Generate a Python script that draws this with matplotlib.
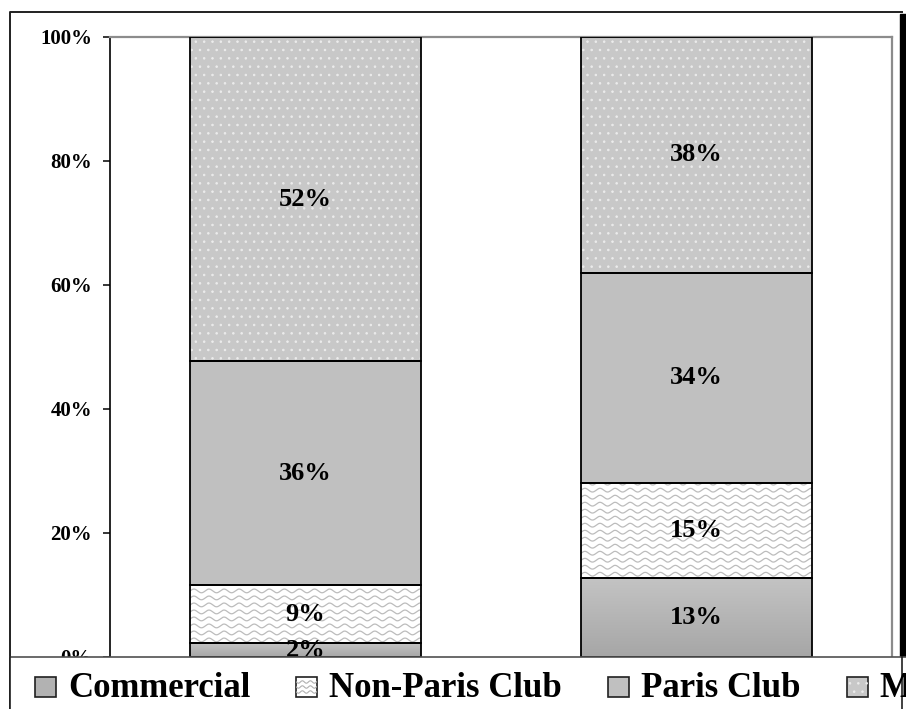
import numpy as np
import matplotlib.pyplot as plt
from matplotlib.patches import Rectangle
from matplotlib.lines import Line2D
from matplotlib.colors import LinearSegmentedColormap

# data (percent of total, bottom to top)
categories = ['Period 1', 'Period 2']
series = ['Commercial', 'Non-Paris Club', 'Paris Club', 'Multilateral']
commercial = [2.2, 12.8]
non_paris = [9.4, 15.3]
paris = [36.1, 33.9]
multilateral = [52.3, 38.0]
yticks = [0, 20, 40, 60, 80, 100]

W, H = 906, 709
SERIF = 'Liberation Serif'
plt.rcParams['hatch.linewidth'] = 0.6

def fx(x):
  return x / W

def fy(y):
  return 1 - y / H

fig = plt.figure(figsize=(W / 100, H / 100), dpi=100)
ax = fig.add_axes([fx(110), fy(657), (892 - 110) / W, (657 - 37) / H])

x = np.arange(len(categories))
width = 0.59
stack = [commercial, non_paris, paris, multilateral]
faces = ['#b4b4b4', 'white', '#c0c0c0', '#c8c8c8']

# stacked bars
bottoms = np.zeros(len(categories))
containers = []
for vals, face in zip(stack, faces):
  bars = ax.bar(x, vals, width, bottom=bottoms, color=face, edgecolor='none', zorder=2)
  containers.append((bars, bottoms.copy(), np.array(vals)))
  bottoms = bottoms + np.array(vals)

# commercial: vertical gradient, lighter at the top of each bar
grad_cmap = LinearSegmentedColormap.from_list('g', ['#a6a6a6', '#c4c4c4'])
grad = np.linspace(0, 1, 256).reshape(-1, 1)
for patch in containers[0][0]:
  x0, y0 = patch.get_x(), patch.get_y()
  im = ax.imshow(grad, extent=[x0, x0 + patch.get_width(), y0, y0 + patch.get_height()],
                 origin='lower', aspect='auto', cmap=grad_cmap, zorder=2.5)
  im.set_clip_path(patch)

# non-paris club: wavy texture
lam = 15 / 389.0
amp = 0.3
for patch in containers[1][0]:
  x0, y0 = patch.get_x(), patch.get_y()
  xx = np.linspace(x0, x0 + patch.get_width(), 600)
  for yy in np.arange(y0 + 0.55, y0 + patch.get_height(), 1.13):
    ln, = ax.plot(xx, yy + amp * np.sin(2 * np.pi * (xx - x0) / lam), color='#bcbcbc',
                  lw=0.9, zorder=2.5)
    ln.set_clip_path(patch)

# multilateral: faint white dots
ax.bar(x, multilateral, width, bottom=containers[3][1], fill=False, edgecolor='#ececec',
       lw=0, hatch='..', zorder=2.6)

# outlines and value labels
for bars, bot, vals in containers:
  ax.bar(x, vals, width, bottom=bot, fill=False, edgecolor='black', lw=1.3, zorder=4)
  for xi, b, v in zip(x, bot, vals):
    ax.text(xi, b + v / 2, '%.0f%%' % v, ha='center', va='center', fontsize=19,
            fontweight='bold', family=SERIF, zorder=6)

ax.set_xlim(-0.5, len(categories) - 0.5)
ax.set_ylim(0, 100)
ax.set_yticks(yticks)
ax.set_yticklabels(['%d%%' % t for t in yticks], fontsize=15, fontweight='bold', family=SERIF)
ax.set_xticks([])
ax.tick_params(axis='y', length=5, width=1.1, pad=8)
ax.spines['left'].set_linewidth(1.2)
ax.spines['bottom'].set_visible(False)
for side in ['top', 'right']:
  ax.spines[side].set_color('#8c8c8c')
  ax.spines[side].set_linewidth(1.6)

# chart frame and shadow
fig.lines.append(Line2D([fx(10), fx(10), fx(902)], [fy(H), fy(12), fy(12)], color='#202020',
                        lw=1.4, transform=fig.transFigure, zorder=3))
fig.patches.append(Rectangle((fx(900), fy(657)), fx(6), (657 - 14) / H, color='black',
                             transform=fig.transFigure, zorder=3))

# legend box along the bottom (cut off at the right, as in the source)
fig.patches.append(Rectangle((fx(10), 0), 1, fy(657), facecolor='white', edgecolor='none',
                             transform=fig.transFigure, zorder=10))
fig.lines.append(Line2D([fx(10), 1], [fy(657), fy(657)], color='#505050', lw=1.2,
                        transform=fig.transFigure, zorder=11))
for px_ in [10, 902]:
  fig.lines.append(Line2D([fx(px_), fx(px_)], [fy(657), 0], color='#202020', lw=1.2,
                          transform=fig.transFigure, zorder=11))

renderer = fig.canvas.get_renderer()
bx = 35
for i, name in enumerate(series):
  box = Rectangle((fx(bx), fy(697)), 21 / W, 20 / H, facecolor=faces[i], edgecolor='#202020',
                  lw=1.2, transform=fig.transFigure, zorder=12)
  fig.patches.append(box)
  if i == 0:
    box.set_facecolor('#b2b2b2')
  if i == 1:
    xs = np.linspace(bx, bx + 21, 60)
    for yy in [682, 687, 692]:
      ln = Line2D(fx(xs), fy(yy + 1.2 * np.sin(2 * np.pi * (xs - bx) / 8)), color='#b0b0b0',
                  lw=0.8, transform=fig.transFigure, zorder=12.5)
      ln.set_clip_path(box)
      fig.lines.append(ln)
  if i == 3:
    fig.patches.append(Rectangle((fx(bx), fy(697)), 21 / W, 20 / H, fill=False,
                                 edgecolor='#ececec', lw=0, hatch='..',
                                 transform=fig.transFigure, zorder=12.5))
  t = fig.text(fx(bx + 33), fy(697), name, fontsize=25, fontweight='bold', family=SERIF,
               ha='left', va='baseline', zorder=13)
  bx = bx + 33 + t.get_window_extent(renderer).width + 46

fig.savefig('out.png', dpi=100)
